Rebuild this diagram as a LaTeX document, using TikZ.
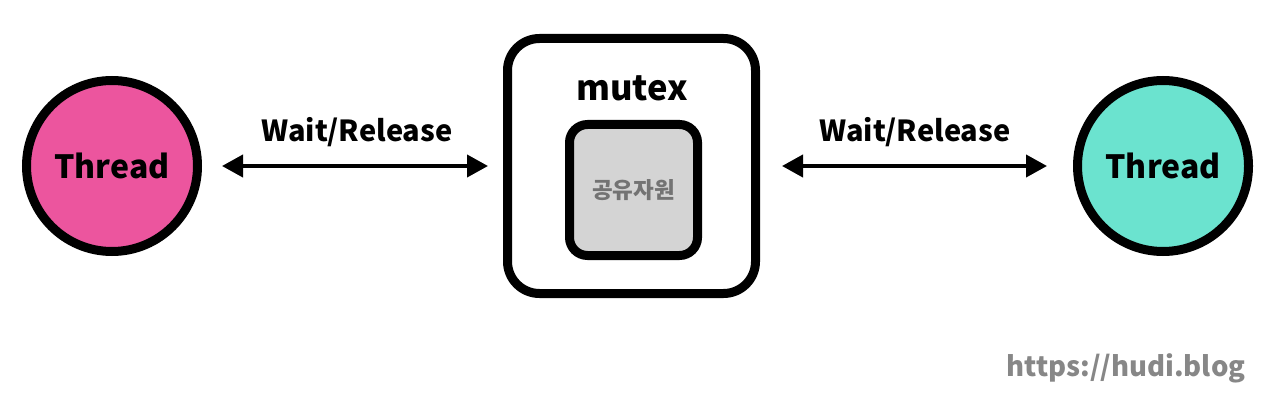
\documentclass[tikz,border=0pt]{standalone}
\usepackage{fontspec}
\setmainfont{Noto Sans CJK KR}
\usetikzlibrary{arrows.meta}
\definecolor{threadpink}{HTML}{EC559E}
\definecolor{threadmint}{HTML}{6BE3CF}
\definecolor{resgray}{HTML}{D4D4D4}

\begin{document}
\begin{tikzpicture}[x=1pt, y=1pt, font=\bfseries]
        \useasboundingbox[fill=white] (0,0) rectangle (1284,402);
        \tikzset{
            thread/.style={circle, draw, line width=9pt, minimum size=171pt, inner sep=0pt, font=\fontsize{32}{36}\bfseries},
            link/.style={{Triangle[length=21pt,width=22pt]}-{Triangle[length=21pt,width=22pt]}, line width=4pt},
            lbl/.style={font=\fontsize{29}{32}\bfseries}
        }
        \node[thread, fill=threadpink] (t1) at (112,236) {Thread};
        \node[thread, fill=threadmint] (t2) at (1163,236) {Thread};
        \node[draw, line width=9pt, rounded corners=32pt, minimum width=248pt, minimum height=255pt] (mx) at (631.5,236) {};
        \node[font=\fontsize{34.5}{38}\bfseries] (mxl) at (632,314) {mutex};
        \node[draw, line width=9pt, rounded corners=18pt, fill=resgray, minimum width=128pt, minimum height=131pt,
              text=black!55, font=\fontsize{22.5}{26}\bfseries] (res) at (633.5,212) {공유자원};
        \draw[link, shorten <=20pt, shorten >=15pt] (t1) -- (mx);
        \draw[link, shorten <=22pt, shorten >=26pt] (mx) -- (t2);
        \node[lbl] (w1) at (357,270) {Wait/Release};
        \node[lbl] (w2) at (915,270) {Wait/Release};
        \node[text=black!47, font=\fontsize{27.5}{30}\bfseries] (url) at (1126,34) {https://hudi.blog};
    \end{tikzpicture}
\end{document}
